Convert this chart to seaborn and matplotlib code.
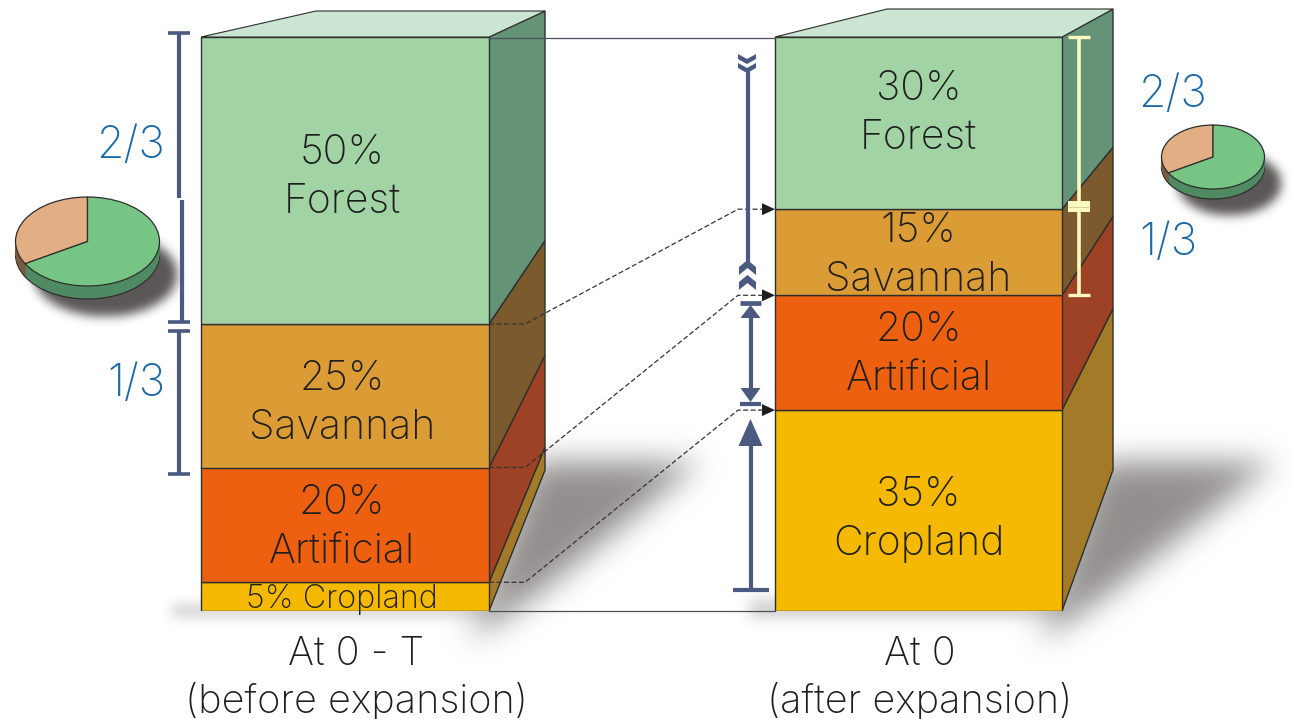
import numpy as np
import pandas as pd
import matplotlib
matplotlib.use("Agg")
import matplotlib.pyplot as plt
from matplotlib.path import Path
from matplotlib.transforms import ScaledTranslation
import seaborn as sns

# ---- values -------------------------------------------------------------
periods = ["At 0 - T\n(before expansion)", "At 0\n(after expansion)"]
land_uses = ["Cropland", "Artificial", "Savannah", "Forest"]
shares_before = [5, 20, 25, 50]
shares_after = [35, 20, 15, 30]
pie_shares = [1 / 3, 2 / 3]
pie_labels = ["1/3", "2/3"]

# ---- colours ------------------------------------------------------------
front_colors = ["#F4B900", "#EC6010", "#DC9C35", "#A2D3A5"]
side_colors = ["#A37A28", "#9E4225", "#7B5A2E", "#659378"]
top_color = "#CBE5D3"
pie_top = ["#E2AE84", "#77C585"]
pie_side = ["#7B5A42", "#4F8A62"]
navy = "#4A5A80"
ivory = "#FFFBC0"
blue = "#1A69A6"
ink = "#1E1E1E"
edge = "#2E2E2E"

# ---- page layout (pixels, y downward) -----------------------------------
W, H = 1291, 719
BASE, TOP = 611, 37
PX_PER_PCT = (BASE - TOP) / 100
boxes = [
    dict(left=201, right=489, back=545, back_left=316, shift_top=26, slope=0.200),
    dict(left=775, right=1062, back=1113, back_left=887, shift_top=28, slope=0.197),
]

sns.set_theme(style="white")
plt.rcParams["font.family"] = ["Inter", "DejaVu Sans"]
plt.rcParams["font.weight"] = "light"

fig = plt.figure(figsize=(W / 100, H / 100), dpi=100, facecolor="white")


def y_of(v):
    return BASE - v * PX_PER_PCT


def px_axes(z):
    a = fig.add_axes([0, 0, 1, 1], zorder=z)
    a.set_xlim(0, W)
    a.set_ylim(H, 0)
    a.axis("off")
    a.patch.set_alpha(0)
    return a


under = px_axes(0)
over = px_axes(3)


# ---- soft shadows -------------------------------------------------------
def gaussian_blur(img, sigma):
    r = int(3 * sigma)
    k = np.exp(-0.5 * (np.arange(-r, r + 1) / sigma) ** 2)
    k /= k.sum()
    img = np.apply_along_axis(lambda m: np.convolve(m, k, mode="same"), 0, img)
    return np.apply_along_axis(lambda m: np.convolve(m, k, mode="same"), 1, img)


yy, xx = np.mgrid[0:H, 0:W]
grid = np.column_stack([xx.ravel() + 0.5, yy.ravel() + 0.5])


def paint_shadow(mask, sigma, color, strength=1.0):
    alpha = gaussian_blur(mask.astype(float), sigma) * strength
    rgba = np.zeros((H, W, 4))
    rgba[..., :3] = matplotlib.colors.to_rgb(color)
    rgba[..., 3] = np.clip(alpha, 0, 1)
    under.imshow(rgba, extent=(0, W, H, 0), aspect="auto", zorder=0, interpolation="bilinear")


def poly_mask(points):
    return Path(points).contains_points(grid).reshape(H, W)


paint_shadow(poly_mask([(470, 640), (535, 462), (700, 462), (540, 592)]), 15, "#918E8D")
paint_shadow(poly_mask([(1040, 640), (1100, 462), (1275, 462), (1110, 592)]), 15, "#918E8D")
paint_shadow(poly_mask([(172, 604), (500, 604), (500, 617), (172, 617)]), 6, "#ABA9A9", 0.5)
paint_shadow(poly_mask([(750, 600), (1070, 600), (1070, 617), (750, 617)]), 7, "#ABA9A9", 0.6)

pies = [
    dict(cx=87.5, cy=241.5, rx=72, ry=44.5, depth=13, shadow=(105, 274, 72, 42)),
    dict(cx=1213, cy=157, rx=51.5, ry=32, depth=10, shadow=(1229, 183, 52, 32)),
]
for p in pies:
    sx, sy, srx, sry = p["shadow"]
    paint_shadow(((xx - sx) / srx) ** 2 + ((yy - sy) / sry) ** 2 < 1, 5, "#5A5656")

# ---- stacked columns ----------------------------------------------------
df = pd.DataFrame(
    {
        "period": np.repeat(periods, len(land_uses)),
        "land": land_uses * 2,
        "share": shares_before + shares_after,
    }
)
df["base"] = df.groupby("period", sort=False)["share"].cumsum() - df["share"]

centers = [(b["left"] + b["right"]) / 2 for b in boxes]
spacing = centers[1] - centers[0]

ax = fig.add_axes([0, (H - BASE) / H, 1, (BASE - TOP) / H], zorder=2)
for land, color in zip(land_uses, front_colors):
    part = df[df["land"] == land]
    sns.barplot(
        data=part, x="period", y="share", order=periods, bottom=part["base"].values,
        color=color, saturation=1, width=287.5 / spacing, edgecolor=edge, linewidth=1.0,
        errorbar=None, ax=ax,
    )

ax.set_xlim(-centers[0] / spacing, (W - centers[0]) / spacing)
ax.set_ylim(0, 100)
ax.patch.set_alpha(0)
sns.despine(ax=ax, left=True, bottom=True)
ax.set_xlabel("")
ax.set_ylabel("")
ax.set_yticks([])
ax.tick_params(axis="x", length=0, pad=17.5, labelsize=28.5, labelcolor=ink)
for tick, shift in zip(ax.get_xticklabels(), (11, 1)):
    tick.set_linespacing(1.3)
    tick.set_transform(tick.get_transform() + ScaledTranslation(shift / 100, 0, fig.dpi_scale_trans))

# ---- receding faces of the columns --------------------------------------
for box, shares in zip(boxes, (shares_before, shares_after)):
    r, b = box["right"], box["back"]

    def back_y(v):
        y = y_of(v)
        return y - box["shift_top"] - box["slope"] * (y - TOP)

    cum = np.concatenate([[0], np.cumsum(shares)])
    for lo, hi, color in zip(cum[:-1], cum[1:], side_colors):
        under.fill(
            [r, b, b, r], [y_of(lo), back_y(lo), back_y(hi), y_of(hi)],
            facecolor=color, edgecolor=edge, linewidth=1.0, zorder=2,
        )
    under.fill(
        [box["left"], r, b, box["back_left"]], [TOP, TOP, back_y(100), back_y(100)],
        facecolor=top_color, edgecolor=edge, linewidth=0.8, zorder=2,
    )

# ---- text on the columns ------------------------------------------------
label_shift = {
    0: {"Artificial": 3, "Savannah": 8, "Forest": -3},
    1: {"Cropland": 9, "Artificial": 2, "Savannah": 3, "Forest": -10},
}
for i, (box, shares) in enumerate(zip(boxes, (shares_before, shares_after))):
    xc = (box["left"] + box["right"]) / 2 + (-3 if i == 0 else 0)
    cum = np.cumsum(shares)
    for land, v, c in zip(land_uses, shares, cum):
        ym = y_of(c - v / 2)
        if v < 10:
            over.text(xc, ym + 3, f"{v}% {land}", ha="center", va="center", fontsize=23.3, color=ink)
            continue
        ym += label_shift[i].get(land, 0)
        over.text(xc, ym - 24.5, f"{v}%", ha="center", va="center", fontsize=29.5, color=ink)
        over.text(xc, ym + 24.5, land, ha="center", va="center", fontsize=29.5, color=ink)

# ---- connectors between the columns -------------------------------------
cum_l = np.cumsum(shares_before)[:-1]
cum_r = np.cumsum(shares_after)[:-1]
r0, l1 = boxes[0]["right"], boxes[1]["left"]
for a, b in zip(cum_l, cum_r):
    ya, yb = y_of(a), y_of(b)
    over.plot([r0, r0 + 36, l1 - 37, l1 - 12], [ya, ya, yb, yb], color="#333333", lw=0.9, ls=(0, (4, 2)))
    over.fill([l1 - 13, l1, l1 - 13], [yb - 6, yb, yb + 6], color="#1E1E1E", lw=0)
over.plot([r0, l1], [y_of(100) + 1, y_of(100) + 1], color="#4A4F5C", lw=0.9)
over.plot([r0, l1], [y_of(0), y_of(0)], color="#4A4F5C", lw=0.9)


# ---- brackets and arrows ------------------------------------------------
def seg(x0, y0, x1, y1, color=navy, lw=3.0):
    over.plot([x0, x1], [y0, y1], color=color, lw=lw, solid_capstyle="butt")


def tri(x, y_apex, y_base, half):
    over.fill([x - half, x + half, x], [y_base, y_base, y_apex], color=navy, lw=0)


def chevron(x, y, half, notch, arm, points_up):
    # y is the upper edge of the shape
    if points_up:
        ys = [y, y + notch, y + notch + arm, y + arm, y + notch + arm, y + notch]
    else:
        ys = [y + notch, y, y + arm, y + notch + arm, y + arm, y]
    over.fill([x, x + half, x + half, x, x - half, x - half], ys, color=navy, lw=0)


# left bracket
seg(179, 33, 179, 198)
seg(168, 33, 190, 33, lw=2.6)
seg(182, 200, 182, 321)
seg(168, 321.5, 190, 321.5, lw=2.6)
seg(168, 330.5, 190, 330.5, lw=2.6)
seg(179, 330, 179, 474)
seg(168, 474, 190, 474, lw=2.6)

# long arrow to the forest loss
seg(747.5, 68, 747.5, 262, lw=3.0)
chevron(747, 54, 9, 5, 5, points_up=False)
chevron(747, 63, 9, 5, 5, points_up=False)
chevron(747.5, 260, 8.5, 7, 8, points_up=True)
chevron(747.5, 275, 8.5, 7, 8, points_up=True)

# middle arrow
seg(740, 302.5, 761, 302.5, lw=3.4)
tri(750.5, 305, 318, 10)
seg(751, 317, 751, 389, lw=3.0)
tri(750.5, 402, 388, 10)
seg(740, 404, 761, 404, lw=3.0)

# lower arrow
tri(750.5, 419, 446, 12)
seg(751, 445, 751, 590, lw=3.0)
seg(733, 590, 769, 590, lw=3.0)

# pale bracket on the right column
seg(1079, 37, 1079, 295, color=ivory, lw=2.6)
seg(1068, 37, 1090, 37, color=ivory, lw=2.4)
seg(1068, 295, 1090, 295, color=ivory, lw=2.4)
over.fill([1068, 1090, 1090, 1068], [201, 201, 212, 212], color=ivory, lw=0)
seg(1068, 206.5, 1090, 206.5, color="#CFCB98", lw=0.6)

# fraction labels
for txt, x, y in [
    (pie_labels[1], 131, 146), (pie_labels[0], 136, 384),
    (pie_labels[1], 1172, 95), (pie_labels[0], 1168, 243),
]:
    over.text(x, y, txt, ha="center", va="center", fontsize=32, color=blue)

# ---- thick pies ---------------------------------------------------------
for p in pies:
    rx, ry, depth = p["rx"], p["ry"], p["depth"]
    pad = 2
    l = p["cx"] - rx - pad
    t = p["cy"] - ry - pad
    w = 2 * (rx + pad)
    h = 2 * (ry + pad) + depth
    pa = fig.add_axes([l / W, 1 - (t + h) / H, w / W, h / H], zorder=4)
    for k in range(depth, 0, -1):
        pa.pie(
            pie_shares, colors=pie_side, startangle=90, center=(0, -k / ry),
            wedgeprops=dict(linewidth=0.9 if k == depth else 0, edgecolor=edge),
        )
    pa.pie(
        pie_shares, colors=pie_top, startangle=90,
        wedgeprops=dict(linewidth=0.9, edgecolor=edge),
    )
    pa.set_aspect("auto")
    pa.set_xlim(-(rx + pad) / rx, (rx + pad) / rx)
    pa.set_ylim(-(ry + pad + depth) / ry, (ry + pad) / ry)
    pa.patch.set_alpha(0)

fig.savefig("out.png", dpi=100, facecolor="white")
